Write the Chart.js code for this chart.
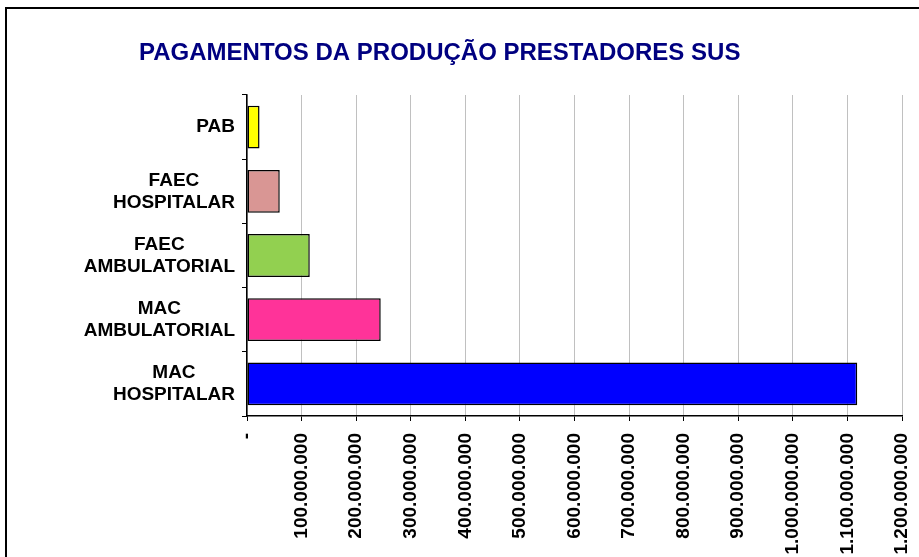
<!DOCTYPE html>
<html>
<head>
<meta charset="utf-8">
<script src="https://cdn.jsdelivr.net/npm/chart.js@4"></script>
<style>
  html, body { margin: 0; padding: 0; background: #fff; overflow: hidden; }
  #wrap { width: 919px; height: 557px; position: relative; }
</style>
</head>
<body>
<div id="wrap"><canvas id="chart"></canvas></div>
<script>
const titleText = 'PAGAMENTOS DA PRODUÇÃO PRESTADORES SUS';

// categories, top to bottom
const categories = [
  ['PAB'],
  ['FAEC', 'HOSPITALAR'],
  ['FAEC', 'AMBULATORIAL'],
  ['MAC', 'AMBULATORIAL'],
  ['MAC', 'HOSPITALAR']
];
const values = [23000000, 60000000, 115000000, 245000000, 1118000000];
const barColors = ['#ffff00', '#d99694', '#92d050', '#ff3399', '#0000ff'];

const xTickValues = [0, 100000000, 200000000, 300000000, 400000000, 500000000, 600000000,
  700000000, 800000000, 900000000, 1000000000, 1100000000, 1200000000];
const xTickLabels = ['-', '100.000.000', '200.000.000', '300.000.000', '400.000.000', '500.000.000',
  '600.000.000', '700.000.000', '800.000.000', '900.000.000', '1.000.000.000', '1.100.000.000', '1.200.000.000'];

const fontFamily = '"Liberation Sans", Arial, sans-serif';
Chart.defaults.font.family = fontFamily;

// outer frame of the chart object
const framePlugin = {
  id: 'frame',
  beforeDraw(chart) {
    const ctx = chart.ctx;
    ctx.save();
    ctx.strokeStyle = '#000';
    ctx.lineWidth = 2;
    ctx.strokeRect(6, 8, 1000, 1000);
    ctx.restore();
  }
};

const titlePlugin = {
  id: 'sheetTitle',
  afterDraw(chart) {
    const ctx = chart.ctx;
    ctx.save();
    ctx.font = 'bold 24px ' + fontFamily;
    ctx.fillStyle = '#000080';
    ctx.textAlign = 'left';
    ctx.textBaseline = 'middle';
    ctx.fillText(titleText, 139, 53);
    ctx.restore();
  }
};

// category labels: block right aligned, lines centred on each other
const yLabelsPlugin = {
  id: 'yLabels',
  afterDraw(chart) {
    const ctx = chart.ctx;
    const yScale = chart.scales.y;
    const right = chart.chartArea.left - 12;
    ctx.save();
    ctx.font = 'bold 19px ' + fontFamily;
    ctx.fillStyle = '#000';
    ctx.textAlign = 'center';
    ctx.textBaseline = 'middle';
    chart.data.labels.forEach((lines, i) => {
      const w = Math.max(...lines.map(l => ctx.measureText(l).width));
      const cx = right - w / 2;
      const cy = yScale.getPixelForTick(i);
      lines.forEach((l, j) => {
        ctx.fillText(l, cx, cy + (j - (lines.length - 1) / 2) * 22);
      });
    });
    ctx.restore();
  }
};

new Chart(document.getElementById('chart'), {
  type: 'bar',
  data: {
    labels: categories,
    datasets: [{
      data: values,
      backgroundColor: barColors,
      borderColor: '#000',
      borderWidth: 1.5,
      borderSkipped: false,
      barPercentage: 0.667,
      categoryPercentage: 1
    }]
  },
  options: {
    indexAxis: 'y',
    responsive: true,
    maintainAspectRatio: false,
    animation: false,
    layout: { padding: { top: 95, right: 0, left: 0, bottom: 0 } },
    plugins: {
      legend: { display: false },
      tooltip: { enabled: false },
      title: { display: false }
    },
    scales: {
      x: {
        min: 0,
        max: 1200000000,
        afterBuildTicks: s => { s.ticks = xTickValues.map(v => ({ value: v })); },
        ticks: {
          autoSkip: false,
          minRotation: 90,
          maxRotation: 90,
          padding: 12,
          color: '#000',
          font: { size: 19, weight: 'bold' },
          callback: (v, i) => xTickLabels[i]
        },
        grid: { color: '#c0c0c0', tickColor: '#000', tickLength: 5, lineWidth: 1 },
        border: { color: '#000', width: 1.5 },
        afterFit: s => { s.height = 141; s.paddingRight = 17; }
      },
      y: {
        ticks: { display: false },
        grid: { drawOnChartArea: false, tickLength: 5, tickColor: '#000', offset: true },
        border: { color: '#000', width: 1.5 },
        afterFit: s => { s.width = 247; }
      }
    }
  },
  plugins: [framePlugin, titlePlugin, yLabelsPlugin]
});
</script>
</body>
</html>
